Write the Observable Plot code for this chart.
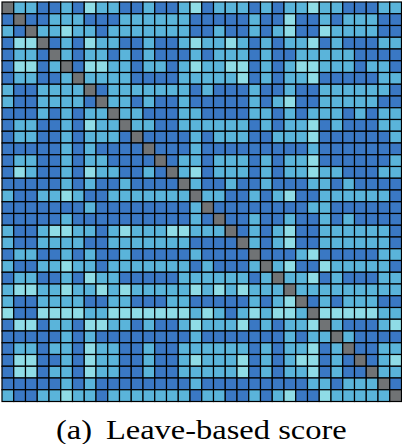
<!DOCTYPE html>
<html style="margin:0;padding:0;width:402px;height:444px;overflow:hidden;background:#fff;">
<head>
<meta charset="utf-8">
<script src="https://cdn.jsdelivr.net/npm/d3@7"></script>
<script src="https://cdn.jsdelivr.net/npm/@observablehq/plot@0.6"></script>
</head>
<body style="margin:0;padding:0;width:402px;height:444px;overflow:hidden;position:relative;background:#fff;">
<div id="chart" style="position:absolute;left:0;top:0;width:402px;height:403px;margin:0;padding:0;"></div>
<div id="caption" style="position:absolute;left:0;top:416px;width:402px;height:28px;text-align:center;font:28px/28px 'Liberation Serif';color:#000;white-space:nowrap;margin:0;padding:0;"></div>
<script>
// level codes: 0 = self (diagonal), 1 = low, 2 = medium, 3 = high
const levelNames = ["self", "low", "medium", "high"];
const levelColors = ["#707375", "#3a78c4", "#5ab4da", "#8fdce6"];
const captionLabel = "(a)";
const captionText = "Leave-based score";
const matrix = [
  [0,2,2,1,1,2,1,3,2,2,1, 1,2,1,1,2,3,1,2,2,2,1, 2, 1,2,2,3,2,2,1,1,1,2,2],
  [1,0,1,1,2,2,2,1,1,1,2, 2,2,2,2,2,1,1,1,1,1,2, 1, 1,3,1,1,2,1,2,2,2,1,1],
  [2,1,0,2,2,3,2,2,1,2,2, 2,2,2,2,2,1,1,2,1,1,2, 1, 2,3,1,1,3,2,2,2,2,1,1],
  [1,3,3,0,1,2,1,3,2,2,1, 1,2,1,1,2,3,2,2,3,2,1, 2, 1,2,2,3,1,2,1,1,1,2,2],
  [1,2,2,1,0,2,1,2,2,1,2, 1,2,1,1,1,2,1,2,2,2,1, 2, 1,1,2,2,2,2,2,1,1,1,1],
  [1,3,3,1,2,0,1,3,3,2,2, 1,2,2,1,2,3,2,2,3,3,1, 2, 1,2,3,3,2,2,2,1,2,2,1],
  [1,2,2,1,1,2,0,2,2,2,2, 1,1,1,1,2,2,2,2,2,3,1, 2, 1,2,2,3,1,1,1,1,1,2,2],
  [2,1,1,2,2,2,2,0,1,2,2, 2,2,2,2,2,1,2,1,1,1,2, 1, 1,2,1,1,2,2,2,2,2,2,1],
  [2,1,1,2,2,2,2,1,0,2,2, 1,2,1,1,2,1,1,1,1,1,2, 1, 2,3,1,1,2,2,2,2,2,1,1],
  [1,1,1,2,1,2,1,2,2,0,2, 2,1,1,1,2,2,1,1,1,1,2, 2, 1,2,1,2,2,2,1,2,1,2,2],
  [1,2,2,1,1,2,1,3,2,2,0, 2,2,1,1,2,2,2,2,2,2,1, 2, 1,2,2,3,1,2,1,1,1,2,2],
  [1,2,2,1,1,2,1,2,2,2,1, 0,1,1,1,1,2,1,2,2,2,1, 1, 2,2,2,3,1,1,1,1,1,1,2],
  [1,1,1,1,1,2,1,2,1,1,1, 1,0,1,1,1,2,1,1,1,1,1, 1, 1,1,1,2,1,1,1,1,1,1,1],
  [1,2,2,1,1,2,1,2,2,1,1, 1,1,0,1,2,2,1,2,2,2,1, 2, 1,2,2,3,1,1,1,1,1,1,2],
  [1,3,2,1,1,2,1,3,2,2,1, 1,2,1,0,2,3,1,2,2,2,1, 2, 1,2,2,3,2,2,1,1,1,2,2],
  [1,1,1,1,1,2,1,2,1,1,2, 1,1,1,1,0,2,1,1,2,1,1, 2, 1,1,1,2,2,1,2,1,1,1,1],
  [2,1,1,2,2,3,2,1,1,2,2, 2,2,2,2,2,0,2,2,1,1,2, 1, 2,3,1,1,2,2,2,2,2,2,1],
  [1,1,1,1,1,1,1,2,1,1,1, 1,1,1,1,1,2,0,1,1,1,1, 1, 1,1,1,2,2,1,1,1,1,1,1],
  [1,1,1,1,1,2,1,1,1,1,1, 1,1,1,1,1,2,1,0,1,1,2, 1, 1,2,1,1,2,1,2,1,1,1,1],
  [2,1,1,2,3,3,2,2,1,2,3, 2,2,2,3,3,2,2,2,0,1,2, 1, 2,3,1,1,2,2,2,2,2,2,1],
  [2,1,1,2,2,2,2,1,1,2,2, 2,2,2,2,2,1,1,1,1,0,2, 1, 2,3,1,1,2,2,2,2,2,2,1],
  [1,2,2,1,1,2,1,2,1,1,2, 1,1,1,1,1,2,1,1,1,1,0, 1, 1,1,2,3,1,1,1,1,1,2,2],
  [2,1,1,2,2,3,2,2,1,2,2, 2,2,2,2,2,1,2,1,1,1,2, 0, 2,3,1,1,3,2,2,2,2,2,1],
  [1,2,2,1,1,2,1,3,2,2,1, 1,1,1,1,2,2,2,2,2,2,1, 2, 0,2,2,3,1,2,1,1,1,2,2],
  [2,3,3,2,2,3,2,2,3,2,3, 2,2,2,2,2,3,2,3,2,3,2, 2, 2,0,2,2,2,2,2,2,2,2,2],
  [2,1,1,2,2,2,2,1,1,2,2, 1,1,1,2,2,1,1,1,1,1,2, 1, 2,3,0,1,2,1,2,2,2,1,1],
  [3,1,1,3,3,3,3,2,2,3,3, 3,3,3,3,3,2,3,2,1,2,3, 2, 3,3,2,0,3,3,3,3,3,2,2],
  [1,3,3,1,2,2,1,3,3,2,2, 1,2,1,1,2,3,2,2,2,3,1, 2, 1,2,2,3,0,2,1,1,1,2,3],
  [1,1,1,1,1,2,1,2,1,1,1, 1,1,1,1,1,2,1,1,1,1,1, 1, 1,2,1,2,2,0,2,1,1,1,1],
  [1,2,2,1,2,2,1,3,2,2,1, 1,2,1,1,2,2,2,2,2,2,1, 2, 1,2,2,3,1,2,0,1,1,2,2],
  [1,3,3,1,1,2,1,3,2,2,1, 1,2,1,1,2,3,2,2,2,3,1, 2, 1,2,3,3,1,2,1,0,1,2,3],
  [1,3,3,1,2,2,1,3,2,2,1, 1,2,1,1,2,2,2,2,2,3,1, 2, 1,2,2,3,1,2,1,1,0,2,2],
  [1,1,1,1,1,2,1,2,1,1,1, 1,1,1,1,1,2,1,1,1,1,1, 1, 1,1,1,2,2,1,2,2,2,0,1],
  [2,1,1,2,2,3,2,2,1,2,2, 2,2,2,2,2,1,2,2,1,1,2, 1, 2,3,1,1,3,2,2,2,2,2,0]
];

const n = matrix.length;
const idx = d3.range(n);
const cells = matrix.flatMap((row, r) => row.map((v, c) => ({row: r, col: c, level: levelNames[v]})));

const chart = Plot.plot({
  width: 402,
  height: 403,
  marginLeft: 2,
  marginRight: 0.5,
  marginTop: 2,
  marginBottom: 1.5,
  x: {type: "band", domain: idx, padding: 0, round: false, axis: null},
  y: {type: "band", domain: idx, padding: 0, round: false, axis: null},
  color: {type: "ordinal", domain: levelNames, range: levelColors},
  marks: [
    Plot.cell(cells, {x: "col", y: "row", fill: "level", stroke: "#000", strokeWidth: 1.2, inset: 0})
  ]
});
chart.style.display = "block";
document.getElementById("chart").appendChild(chart);

const cap = document.getElementById("caption");
const inner = document.createElement("span");
inner.style.display = "inline-block";
inner.style.transform = "scaleX(1.16)";
const s1 = document.createElement("span");
s1.textContent = captionLabel;
const s2 = document.createElement("span");
s2.textContent = captionText;
s2.style.marginLeft = "12px";
inner.appendChild(s1);
inner.appendChild(s2);
cap.appendChild(inner);
</script>
</body>
</html>
